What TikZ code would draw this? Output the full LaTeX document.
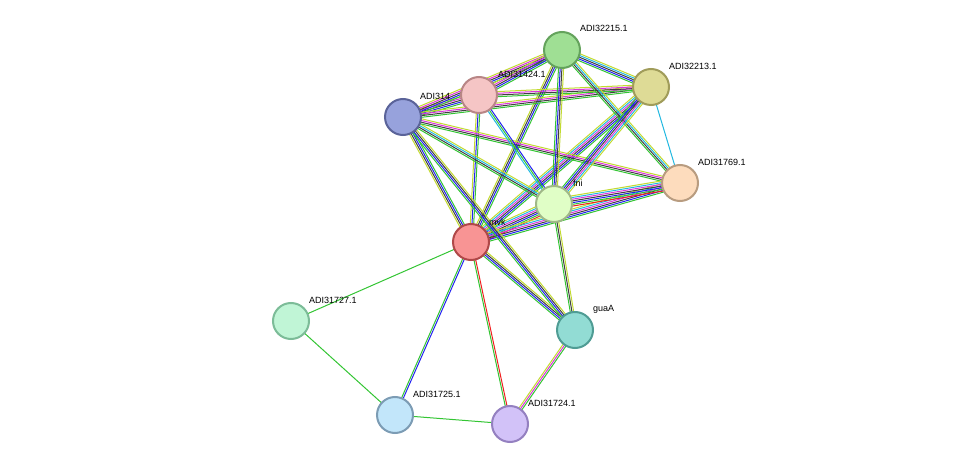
\documentclass[tikz,border=0pt]{standalone}
\usepackage{fontspec}
\setmainfont{Liberation Sans}
\usetikzlibrary{calc}
\definecolor{eG}{HTML}{33C533}
\definecolor{eB}{HTML}{2222F0}
\definecolor{eK}{HTML}{404040}
\definecolor{eM}{HTML}{DD33DD}
\definecolor{eC}{HTML}{22B8E0}
\definecolor{eY}{HTML}{C2DA30}
\definecolor{eR}{HTML}{F02020}
\newcommand\bund[4]{%
  \foreach \c [count=\i] in {#4}{%
    \pgfmathsetmacro\o{(\i-(#3+1)/2)*1.7}%
    \draw[\c,line width=1pt] ($(#1)!\o pt!90:(#2)$) -- ($(#2)!\o pt!-90:(#1)$);
  }}
\tikzset{
  nd/.style={circle,minimum size=36pt,inner sep=0pt,line width=2pt},
  lb/.style={anchor=west,font=\fontsize{9}{10}\selectfont,inner sep=0pt},
}
\begin{document}
\begin{tikzpicture}[x=1pt,y=-1pt]
\useasboundingbox (0,0) rectangle (975,470);
\coordinate (s15) at (562,50);
\coordinate (s13) at (651,87);
\coordinate (s24) at (479,95);
\coordinate (s14) at (403,117);
\coordinate (s69) at (680,183);
\coordinate (fni) at (554,204);
\coordinate (mvk) at (471,242);
\coordinate (s27) at (291,321);
\coordinate (gua) at (575,330);
\coordinate (s25) at (395,415);
\coordinate (s4) at (510,424);
% edges
\bund{mvk}{s14}{4}{eG,eB,eK,eY}
\bund{mvk}{s24}{3}{eG,eB,eY}
\bund{mvk}{s15}{4}{eG,eB,eK,eY}
\bund{mvk}{s13}{6}{eG,eB,eK,eM,eC,eY}
\bund{mvk}{fni}{7}{eR,eG,eB,eK,eM,eC,eY}
\bund{mvk}{s69}{6}{eG,eB,eK,eM,eC,eY}
\bund{mvk}{gua}{4}{eG,eB,eK,eY}
\bund{mvk}{s27}{1}{eG}
\bund{mvk}{s25}{2}{eG,eB}
\bund{mvk}{s4}{2}{eG,eR}
\bund{gua}{s4}{3}{eY,eM,eG}
\bund{s27}{s25}{1}{eG}
\bund{s25}{s4}{1}{eG}
\bund{fni}{gua}{3}{eG,eK,eY}
\bund{s14}{gua}{4}{eG,eB,eK,eY}
\bund{s14}{fni}{4}{eG,eK,eC,eY}
\bund{s14}{s69}{4}{eG,eK,eM,eY}
\bund{s14}{s24}{5}{eG,eB,eK,eM,eY}
\bund{s14}{s15}{5}{eG,eB,eK,eM,eY}
\bund{s14}{s13}{4}{eG,eK,eM,eY}
\bund{s24}{s15}{5}{eG,eB,eK,eM,eY}
\bund{s24}{s13}{4}{eG,eK,eM,eY}
\bund{s24}{fni}{3}{eC,eG,eB}
\bund{s15}{fni}{4}{eG,eB,eK,eY}
\bund{s15}{s13}{5}{eG,eB,eK,eC,eY}
\bund{s15}{s69}{4}{eG,eK,eC,eY}
\bund{s13}{fni}{6}{eG,eB,eK,eM,eC,eY}
\bund{s13}{s69}{1}{eC}
\bund{fni}{s69}{7}{eR,eG,eB,eK,eM,eC,eY}
% hidden label
\node[lb] (l14) at ($(s14)+(17,-21)$) {ADI314};
% nodes
\node[nd,fill={rgb,255:red,159;green,223;blue,148},draw={rgb,255:red,100;green,163;blue,92}] (n15) at (s15) {};
\node[nd,fill={rgb,255:red,222;green,219;blue,150},draw={rgb,255:red,160;green,156;blue,90}] (n13) at (s13) {};
\node[nd,fill={rgb,255:red,245;green,197;blue,197},draw={rgb,255:red,184;green,134;blue,134}] (n24) at (s24) {};
\node[nd,fill={rgb,255:red,151;green,162;blue,220},draw={rgb,255:red,90;green,99;blue,153}] (n14) at (s14) {};
\node[nd,fill={rgb,255:red,253;green,220;blue,189},draw={rgb,255:red,184;green,156;blue,128}] (n69) at (s69) {};
\node[nd,fill={rgb,255:red,224;green,254;blue,198},draw={rgb,255:red,160;green,184;blue,136}] (nfni) at (fni) {};
\node[nd,fill={rgb,255:red,248;green,148;blue,148},draw={rgb,255:red,176;green,72;blue,72}] (nmvk) at (mvk) {};
\node[nd,fill={rgb,255:red,192;green,245;blue,214},draw={rgb,255:red,124;green,188;blue,152}] (n27) at (s27) {};
\node[nd,fill={rgb,255:red,146;green,220;blue,212},draw={rgb,255:red,79;green,156;blue,148}] (ngua) at (gua) {};
\node[nd,fill={rgb,255:red,194;green,230;blue,250},draw={rgb,255:red,124;green,156;blue,180}] (n25) at (s25) {};
\node[nd,fill={rgb,255:red,210;green,194;blue,248},draw={rgb,255:red,148;green,128;blue,192}] (n4) at (s4) {};
% labels
\node[lb] (l15) at ($(s15)+(18,-22)$) {ADI32215.1};
\node[lb] (l13) at ($(s13)+(18,-21)$) {ADI32213.1};
\node[lb] (l24) at ($(s24)+(19,-21)$) {ADI31424.1};
\node[lb] (l69) at ($(s69)+(18,-21)$) {ADI31769.1};
\node[lb] (lfni) at ($(fni)+(19,-21)$) {fni};
\node[lb] (lmvk) at ($(mvk)+(18,-20)$) {mvk};
\node[lb] (l27) at ($(s27)+(18,-21)$) {ADI31727.1};
\node[lb] (lgua) at ($(gua)+(18,-21)$) {guaA};
\node[lb] (l25) at ($(s25)+(18,-21)$) {ADI31725.1};
\node[lb] (l4) at ($(s4)+(18,-21)$) {ADI31724.1};
\end{tikzpicture}
\end{document}
